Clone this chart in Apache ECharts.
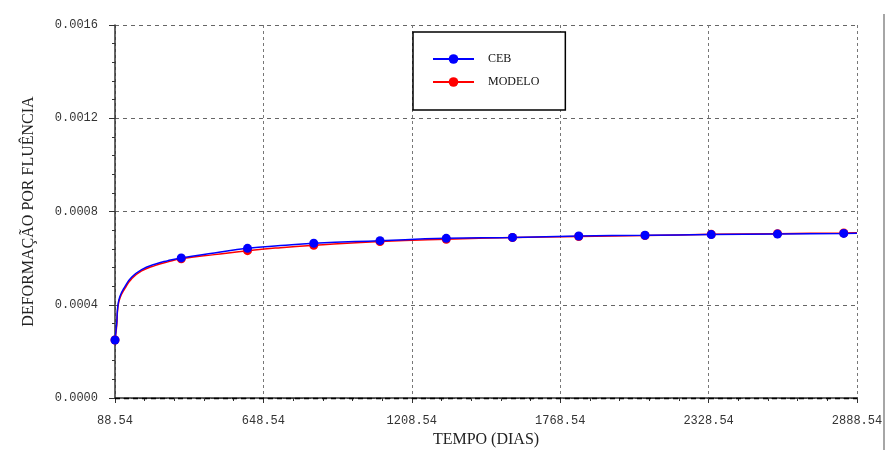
<!DOCTYPE html>
<html lang="pt">
<head>
  <meta charset="UTF-8">
  <title>Deformação por fluência</title>
  <script src="https://cdn.jsdelivr.net/npm/echarts@6/dist/echarts.min.js"></script>
  <style>
    body { margin: 0; background: #fff; }
    #chart { width: 890px; height: 450px; }
  </style>
</head>
<body>
  <div id="chart"></div>
  <script>
    // idade de carregamento (dias) - origem do eixo x
    var T0 = 88.54
    var xTicks = ['88.54', '648.54', '1208.54', '1768.54', '2328.54', '2888.54']
    var yTicks = [0, 0.0004, 0.0008, 0.0012, 0.0016]

    // pontos
    var days = [88.54, 95, 99, 107, 126, 151, 189, 239, 288, 338.54, 463.54, 588.54, 713.54,
      838.54, 1088.54, 1338.54, 1588.54, 1838.54, 2088.54, 2338.54, 2588.54, 2838.54, 2888.54]
    var ceb = [0.000249, 0.000322, 0.000392, 0.000435, 0.000478, 0.000518, 0.000551, 0.000574,
      0.000589, 0.000601, 0.000622, 0.000642, 0.000654, 0.000664, 0.000675, 0.000685, 0.000689,
      0.000695, 0.000698, 0.000701, 0.000703, 0.000706, 0.000707]
    var modelo = [0.000249, 0.000310, 0.000385, 0.000428, 0.000470, 0.000511, 0.000545, 0.000568,
      0.000584, 0.000597, 0.000615, 0.000632, 0.000645, 0.000655, 0.000671, 0.000681, 0.000688,
      0.000693, 0.000697, 0.000702, 0.000705, 0.000708, 0.000709]
    // dias com marcador
    var markerDays = [88.54, 338.54, 588.54, 838.54, 1088.54, 1338.54, 1588.54, 1838.54,
      2088.54, 2338.54, 2588.54, 2838.54]

    function buildData(vals) {
      return days.map(function (d, i) {
        var item = { value: [d - T0, vals[i]] }
        if (markerDays.indexOf(d) < 0) item.symbol = 'none'
        return item
      })
    }

    var mCharts = echarts.init(document.getElementById('chart'))
    var tickFont = { fontFamily: 'Liberation Mono', fontSize: 12, color: '#333' }

    var option = {
      animation: false,
      backgroundColor: '#fff',
      grid: { left: 115, right: 33, top: 25, bottom: 52, outerBoundsMode: 'none' },
      legend: {
        data: ['CEB', 'MODELO'],
        orient: 'vertical',
        left: 413,
        top: 32,
        padding: [21, 26, 22, 19],
        itemWidth: 41,
        itemHeight: 12,
        itemGap: 11,
        borderColor: '#000',
        borderWidth: 1.5,
        backgroundColor: '#fff',
        textStyle: { fontFamily: 'Liberation Serif', fontSize: 12, color: '#111', padding: [0, 0, 0, 9] }
      },
      xAxis: {
        type: 'value',
        min: 0,
        max: 2800,
        interval: 560,
        name: 'TEMPO (DIAS)',
        nameLocation: 'middle',
        nameGap: 33,
        nameTextStyle: { fontFamily: 'Liberation Serif', fontSize: 16, color: '#222' },
        axisLine: { lineStyle: { color: '#333', width: 1.5 } },
        axisTick: { show: true, length: 5, lineStyle: { color: '#333' } },
        minorTick: { show: true, splitNumber: 5, length: 3, lineStyle: { color: '#333' } },
        axisLabel: Object.assign({
          margin: 17,
          formatter: function (v) { return xTicks[Math.round(v / 560)] }
        }, tickFont),
        splitLine: { show: true, lineStyle: { color: '#777', type: [3, 3], width: 1 } }
      },
      yAxis: {
        type: 'value',
        min: yTicks[0],
        max: yTicks[yTicks.length - 1],
        interval: 0.0004,
        name: 'DEFORMAÇÃO POR FLUÊNCIA',
        nameLocation: 'middle',
        nameGap: 78,
        nameTextStyle: { fontFamily: 'Liberation Serif', fontSize: 16, color: '#222' },
        axisLine: { show: true, lineStyle: { color: '#333', width: 1.5 } },
        axisTick: { show: true, length: 6, lineStyle: { color: '#333' } },
        minorTick: { show: true, splitNumber: 5, length: 3, lineStyle: { color: '#333' } },
        axisLabel: Object.assign({
          margin: 17,
          formatter: function (v) { return v.toFixed(4) }
        }, tickFont),
        splitLine: { show: true, lineStyle: { color: '#666', type: [4, 4], width: 1 } }
      },
      graphic: [
        { type: 'line', shape: { x1: 884, y1: 14, x2: 884, y2: 450 }, style: { stroke: '#888', lineWidth: 1.5 } }
      ],
      series: [
        {
          name: 'MODELO',
          type: 'line',
          data: buildData(modelo),
          smooth: 0.5,
          symbol: 'circle',
          symbolSize: 9,
          showAllSymbol: true,
          color: '#ff0000',
          lineStyle: { width: 1.5 },
          markLine: {
            silent: true,
            symbol: 'none',
            label: { show: false },
            lineStyle: { color: '#000', type: [5, 4], width: 1.3 },
            data: [{ yAxis: yTicks[1] }]
          }
        },
        {
          name: 'CEB',
          type: 'line',
          data: buildData(ceb),
          smooth: 0.5,
          symbol: 'circle',
          symbolSize: 9,
          showAllSymbol: true,
          color: '#0000ff',
          lineStyle: { width: 1.5 }
        }
      ]
    }
    mCharts.setOption(option)
  </script>
</body>
</html>
